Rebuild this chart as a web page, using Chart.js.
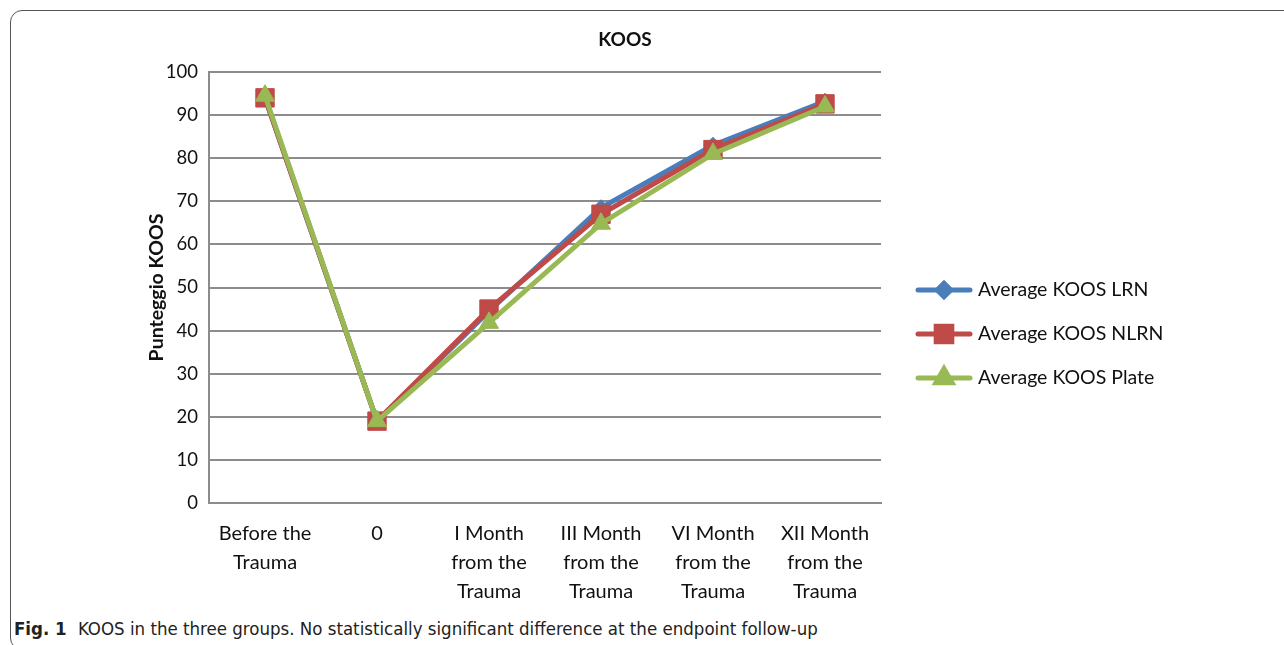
<!DOCTYPE html>
<html>
<head>
<meta charset="utf-8">
<script src="https://cdn.jsdelivr.net/npm/chart.js@4"></script>
<style>
  body { margin: 0; background: #fff; width: 1284px; height: 645px; overflow: hidden; position: relative; }
  #frame {
    position: absolute; left: 10px; top: 10px; width: 1400px; height: 640px;
    border: 1px solid #555; border-radius: 12px; box-sizing: border-box;
  }
  #wrap { position: absolute; left: 10px; top: 10px; width: 1230px; height: 600px; }
  #caption {
    position: absolute; left: 14px; top: 618px;
    font-family: 'Liberation Sans Narrow', 'DejaVu Sans Condensed', 'Noto Sans', sans-serif;
    font-size: 18.5px; color: #222; white-space: nowrap;
  }
  #caption b { margin-right: 6px; }
</style>
</head>
<body>
<div id="frame"></div>
<div id="wrap"><canvas id="koosChart"></canvas></div>
<div id="caption"><b>Fig. 1</b> KOOS in the three groups. No statistically significant difference at the endpoint follow-up</div>

<script>
// categorie (asse x)
const categories = [
  ['Before the', 'Trauma'],
  ['0'],
  ['I Month', 'from the', 'Trauma'],
  ['III Month', 'from the', 'Trauma'],
  ['VI Month', 'from the', 'Trauma'],
  ['XII Month', 'from the', 'Trauma']
];

// valori
const koosLRN   = [94, 19, 44.5, 68.5, 83, 93.2];
const koosNLRN  = [94, 19, 45, 67, 82, 92.6];
const koosPlate = [94.5, 19, 41.8, 64.8, 81, 92];

const seriesNames = ['Average KOOS LRN', 'Average KOOS NLRN', 'Average KOOS Plate'];
const yTicks = [0, 10, 20, 30, 40, 50, 60, 70, 80, 90, 100];
const chartTitle = 'KOOS';

const FONT = 'Lato, "Open Sans", sans-serif';

// titolo + legenda disegnati a mano (linea + marcatore)
const sideLegend = {
  id: 'sideLegend',
  afterDraw(chart) {
    const ctx = chart.ctx;
    ctx.save();
    ctx.fillStyle = '#111';
    ctx.font = 'bold 19px ' + FONT;
    ctx.textAlign = 'center';
    ctx.textBaseline = 'middle';
    ctx.fillText(chartTitle, 615, 30);
    ctx.restore();

    const x0 = 908, y0 = 280, gap = 44;
    chart.data.datasets.forEach((ds, i) => {
      const y = y0 + i * gap;
      ctx.save();
      ctx.strokeStyle = ds.borderColor;
      ctx.lineWidth = 5;
      ctx.lineCap = 'round';
      ctx.beginPath();
      ctx.moveTo(x0, y);
      ctx.lineTo(x0 + 52, y);
      ctx.stroke();
      ctx.fillStyle = ds.pointBackgroundColor;
      ctx.strokeStyle = ds.pointBorderColor;
      Chart.helpers.drawPoint(ctx, { pointStyle: ds.pointStyle, radius: ds.pointRadius * 0.85, rotation: 0, borderWidth: 1 }, x0 + 26, y);
      ctx.fillStyle = '#111';
      ctx.font = '19.5px ' + FONT;
      ctx.textBaseline = 'middle';
      ctx.textAlign = 'left';
      ctx.fillText(ds.label, x0 + 60, y);
      ctx.restore();
    });
  }
};

function makeSet(label, data, color, style, radius, order) {
  return {
    label: label,
    data: data,
    borderColor: color,
    backgroundColor: color,
    pointBackgroundColor: color,
    pointBorderColor: color,
    pointStyle: style,
    pointRadius: radius,
    pointHoverRadius: radius,
    pointBorderWidth: 1,
    borderWidth: 5,
    tension: 0,
    order: order
  };
}

const ctx = document.getElementById('koosChart').getContext('2d');
new Chart(ctx, {
  type: 'line',
  data: {
    labels: categories,
    datasets: [
      makeSet(seriesNames[0], koosLRN, '#4a7ebb', 'rectRot', 8, 3),
      makeSet(seriesNames[1], koosNLRN, '#be4b48', 'rect', 13, 2),
      makeSet(seriesNames[2], koosPlate, '#98b954', 'triangle', 11, 1)
    ]
  },
  plugins: [sideLegend],
  options: {
    responsive: true,
    maintainAspectRatio: false,
    animation: false,
    layout: { padding: { left: 135, right: 359, top: 62, bottom: 0 } },
    plugins: {
      legend: { display: false },
      tooltip: { enabled: false },
      title: { display: false }
    },
    scales: {
      x: {
        offset: true,
        grid: { display: false, drawTicks: false, offset: true },
        border: { display: true, color: '#8c8c8c', width: 2 },
        ticks: {
          color: '#111',
          font: { family: FONT, size: 20, lineHeight: '29px' },
          padding: 16,
          maxRotation: 0,
          autoSkip: false
        },
        afterFit(axis) { axis.height = 107; }
      },
      y: {
        min: 0,
        max: 100,
        afterBuildTicks(axis) { axis.ticks = yTicks.map(v => ({ value: v })); },
        grid: { color: '#8c8c8c', lineWidth: 2, drawTicks: false },
        border: { display: true, color: '#8c8c8c', width: 2 },
        ticks: {
          color: '#111',
          font: { family: FONT, size: 18.5 },
          padding: 11
        },
        title: {
          display: true,
          text: 'Punteggio KOOS',
          color: '#111',
          font: { family: FONT, size: 19.5, weight: 'bold' },
          padding: { top: 0, bottom: 0 }
        },
        afterFit(axis) { axis.width = 64; }
      }
    }
  }
});
</script>
</body>
</html>
